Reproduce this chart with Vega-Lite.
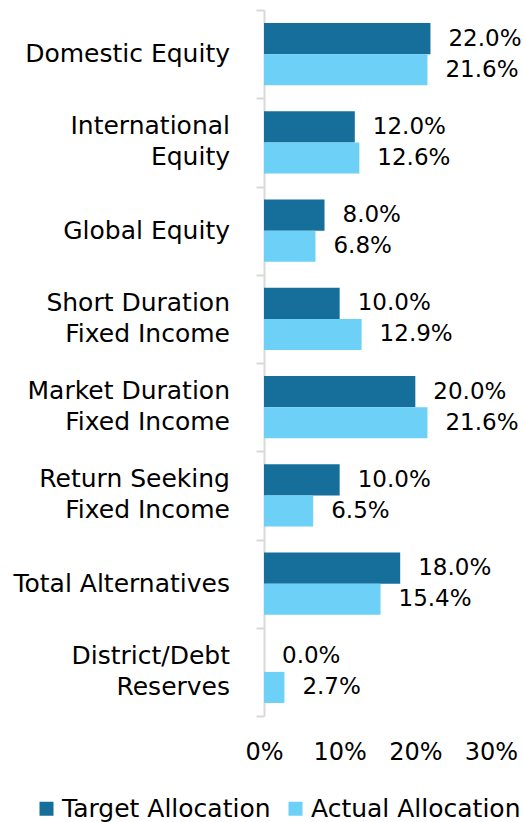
{
  "$schema": "https://vega.github.io/schema/vega-lite/v6.json",
  "autosize": {"type": "none"},
  "width": 227,
  "height": 706,
  "padding": {"left": 264, "top": 10, "right": 33, "bottom": 106},
  "background": "white",
  "config": {
    "view": {"stroke": null},
    "font": "DejaVu Sans",
    "text": {"font": "DejaVu Sans"}
  },
  "data": {
    "values": [
      {"category": "Domestic Equity", "label": "Domestic Equity", "lines": 1, "series": "Target Allocation", "value": 0.22},
      {"category": "Domestic Equity", "label": "Domestic Equity", "lines": 1, "series": "Actual Allocation", "value": 0.216},
      {"category": "International Equity", "label": "International\nEquity", "lines": 2, "series": "Target Allocation", "value": 0.12},
      {"category": "International Equity", "label": "International\nEquity", "lines": 2, "series": "Actual Allocation", "value": 0.126},
      {"category": "Global Equity", "label": "Global Equity", "lines": 1, "series": "Target Allocation", "value": 0.08},
      {"category": "Global Equity", "label": "Global Equity", "lines": 1, "series": "Actual Allocation", "value": 0.068},
      {"category": "Short Duration Fixed Income", "label": "Short Duration\nFixed Income", "lines": 2, "series": "Target Allocation", "value": 0.10},
      {"category": "Short Duration Fixed Income", "label": "Short Duration\nFixed Income", "lines": 2, "series": "Actual Allocation", "value": 0.129},
      {"category": "Market Duration Fixed Income", "label": "Market Duration\nFixed Income", "lines": 2, "series": "Target Allocation", "value": 0.20},
      {"category": "Market Duration Fixed Income", "label": "Market Duration\nFixed Income", "lines": 2, "series": "Actual Allocation", "value": 0.216},
      {"category": "Return Seeking Fixed Income", "label": "Return Seeking\nFixed Income", "lines": 2, "series": "Target Allocation", "value": 0.10},
      {"category": "Return Seeking Fixed Income", "label": "Return Seeking\nFixed Income", "lines": 2, "series": "Actual Allocation", "value": 0.065},
      {"category": "Total Alternatives", "label": "Total Alternatives", "lines": 1, "series": "Target Allocation", "value": 0.18},
      {"category": "Total Alternatives", "label": "Total Alternatives", "lines": 1, "series": "Actual Allocation", "value": 0.154},
      {"category": "District/Debt Reserves", "label": "District/Debt\nReserves", "lines": 2, "series": "Target Allocation", "value": 0.0},
      {"category": "District/Debt Reserves", "label": "District/Debt\nReserves", "lines": 2, "series": "Actual Allocation", "value": 0.027}
    ]
  },
  "encoding": {
    "y": {
      "field": "category",
      "type": "nominal",
      "sort": null,
      "scale": {"paddingInner": 0, "paddingOuter": 0},
      "axis": {
        "title": null,
        "labels": false,
        "domainColor": "#d9d9d9",
        "domainWidth": 2,
        "tickColor": "#d9d9d9",
        "tickWidth": 2,
        "tickSize": 8,
        "tickBand": "extent"
      }
    }
  },
  "layer": [
    {
      "mark": {"type": "bar"},
      "encoding": {
        "x": {
          "field": "value",
          "type": "quantitative",
          "scale": {"domain": [0, 0.3], "nice": false},
          "axis": {
            "title": null,
            "values": [0, 0.1, 0.2, 0.3],
            "format": ".0%",
            "domain": false,
            "ticks": false,
            "grid": false,
            "labelFont": "DejaVu Sans",
            "labelFontSize": 24,
            "labelColor": "#000000",
            "labelPadding": 24,
            "labelFlush": false
          }
        },
        "yOffset": {
          "field": "series",
          "type": "nominal",
          "scale": {"domain": ["Target Allocation", "Actual Allocation"], "paddingInner": 0, "paddingOuter": 0.42}
        },
        "color": {
          "field": "series",
          "type": "nominal",
          "scale": {"domain": ["Target Allocation", "Actual Allocation"], "range": ["#166f9b", "#6dd0f7"]},
          "legend": {
            "title": null,
            "orient": "none",
            "direction": "horizontal",
            "legendX": -230,
            "legendY": 786,
            "symbolType": "square",
            "symbolSize": 196,
            "symbolStrokeWidth": 0,
            "labelFont": "DejaVu Sans",
            "labelFontSize": 25,
            "labelColor": "#000000",
            "labelOffset": 3,
            "columnPadding": 12,
            "labelLimit": 400
          }
        }
      }
    },
    {
      "mark": {"type": "text", "align": "left", "baseline": "middle", "dx": 18, "fontSize": 23, "font": "DejaVu Sans", "color": "#000000"},
      "encoding": {
        "x": {"field": "value", "type": "quantitative"},
        "yOffset": {"field": "series", "type": "nominal"},
        "text": {"field": "value", "type": "quantitative", "format": ".1%"}
      }
    },
    {
      "transform": [{"filter": "datum.series == 'Target Allocation' && datum.lines == 1"}],
      "mark": {"type": "text", "align": "right", "baseline": "middle", "dx": -34, "fontSize": 25, "font": "DejaVu Sans", "color": "#000000"},
      "encoding": {
        "x": {"datum": 0, "type": "quantitative"},
        "text": {"field": "label"}
      }
    },
    {
      "transform": [{"filter": "datum.series == 'Target Allocation' && datum.lines == 2"}],
      "mark": {"type": "text", "align": "right", "baseline": "line-bottom", "lineBreak": "\n", "lineHeight": 31, "dx": -34, "fontSize": 25, "font": "DejaVu Sans", "color": "#000000"},
      "encoding": {
        "x": {"datum": 0, "type": "quantitative"},
        "text": {"field": "label"}
      }
    }
  ]
}
